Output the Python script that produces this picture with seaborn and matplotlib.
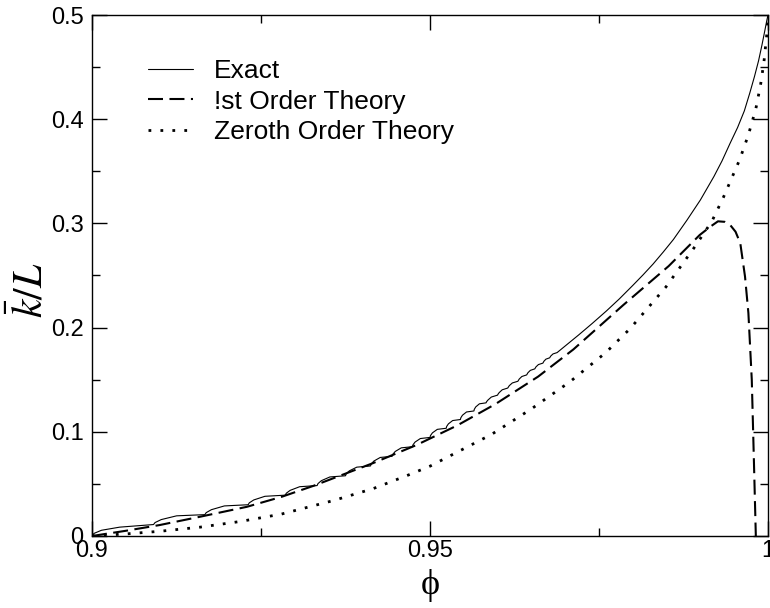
import matplotlib
matplotlib.use("Agg")
import matplotlib.pyplot as plt
import pandas as pd
import seaborn as sns
from matplotlib.ticker import MultipleLocator, FixedLocator, FixedFormatter
from matplotlib.lines import Line2D

# ---------------- data ----------------
phi_exact = [
    0.9000, 0.9003, 0.9014, 0.9041, 0.9091,
    0.90933, 0.91024, 0.91252, 0.9167,
    0.91689, 0.91766, 0.91958, 0.9231,
    0.92327, 0.92393, 0.92558, 0.9286,
    0.92874, 0.92931, 0.93072, 0.9333,
    0.93343, 0.93393, 0.93519, 0.9375,
    0.93761, 0.93806, 0.93917, 0.9412,
    0.94130, 0.94168, 0.94264, 0.9444,
    0.94449, 0.94485, 0.94575, 0.9474,
    0.94748, 0.94779, 0.94857, 0.9500,
    0.95007, 0.95036, 0.95108, 0.9524,
    0.95246, 0.95272, 0.95335, 0.9545,
    0.95456, 0.9548, 0.9554, 0.9565,
    0.95655, 0.95677, 0.95731, 0.9583,
    0.95835, 0.95856, 0.95907, 0.9600,
    0.96005, 0.96023, 0.96068, 0.9615,
    0.96173, 0.96218, 0.9630,
    0.96320, 0.96359, 0.9643,
    0.96448, 0.96484, 0.9655,
    0.96568, 0.96604, 0.9667,
    0.96685, 0.96715, 0.9677,
    0.96787, 0.96820, 0.9688,
    0.9720, 0.9740, 0.9761, 0.9780, 0.9800, 0.9815, 0.9830, 0.9845,
    0.9860, 0.9880, 0.9900, 0.9920, 0.9932, 0.9944, 0.9955, 0.9965,
    0.9973, 0.9980, 0.9986, 0.9991, 0.9995, 0.9998, 1.0000,
]
k_exact = [
    0.0000, 0.0025, 0.0055, 0.0085, 0.0110,
    0.0129, 0.01575, 0.01936, 0.0205,
    0.0224, 0.02525, 0.02886, 0.0300,
    0.03184, 0.0346, 0.0381, 0.0392,
    0.04104, 0.0438, 0.0473, 0.0484,
    0.05028, 0.0531, 0.05667, 0.0578,
    0.05968, 0.0625, 0.06607, 0.0672,
    0.06906, 0.07185, 0.07538, 0.0765,
    0.07834, 0.0811, 0.0846, 0.0857,
    0.08748, 0.09015, 0.09353, 0.0946,
    0.09636, 0.0990, 0.10234, 0.1034,
    0.10508, 0.1076, 0.11079, 0.1118,
    0.11344, 0.1159, 0.11902, 0.1200,
    0.12156, 0.1239, 0.12686, 0.1278,
    0.1287, 0.13039, 0.13335, 0.1352,
    0.1360, 0.13758, 0.1403, 0.1420,
    0.14428, 0.14688, 0.1485,
    0.15064, 0.15308, 0.1546,
    0.15663, 0.15895, 0.1604,
    0.16233, 0.16453, 0.1659,
    0.16769, 0.16973, 0.1710,
    0.17275, 0.17475, 0.1760,
    0.1930, 0.2040, 0.2160, 0.2275, 0.2405, 0.2505, 0.2610, 0.2725,
    0.2845, 0.3030, 0.3225, 0.3450, 0.3600, 0.3770, 0.3920, 0.4080,
    0.4250, 0.4410, 0.4560, 0.4710, 0.4840, 0.4940, 0.5000,
]

phi_first = [0.9000, 0.9050, 0.9100, 0.9160, 0.9229, 0.9280, 0.9327, 0.9416,
             0.9480, 0.9540, 0.9597, 0.9660, 0.9712, 0.9786, 0.9853, 0.9899,
             0.9915, 0.9926, 0.9936, 0.9944, 0.9952, 0.9959, 0.9966, 0.9971,
             0.9976, 0.9979, 0.9982]
k_first = [0.0000, 0.0050, 0.0105, 0.0185, 0.0280, 0.0375, 0.0480, 0.0700,
           0.0873, 0.1060, 0.1267, 0.1530, 0.1790, 0.2217, 0.2590, 0.2889,
           0.2970, 0.3020, 0.3015, 0.2985, 0.2920, 0.2810, 0.2490, 0.2140,
           0.1500, 0.0760, 0.0000]

phi_zeroth = [0.9000, 0.9050, 0.9100, 0.9160, 0.9220, 0.9280, 0.9357, 0.9416,
              0.9466, 0.9500, 0.9591, 0.9650, 0.9707, 0.9760, 0.9796, 0.9849,
              0.9890, 0.9917, 0.9934, 0.9958, 0.9971, 0.9982, 0.9989, 0.9994,
              0.9998, 1.0000]
k_zeroth = [0.0000, 0.0020, 0.0045, 0.0085, 0.0140, 0.0210, 0.0340, 0.0455,
            0.0580, 0.0670, 0.0975, 0.1220, 0.1480, 0.1760, 0.1990, 0.2390,
            0.2760, 0.3020, 0.3250, 0.3610, 0.3850, 0.4100, 0.4330, 0.4550,
            0.4800, 0.5000]

series_labels = ["Exact", "!st Order Theory", "Zeroth Order Theory"]
x_ticks = [0.9, 0.95, 1.0]
x_tick_labels = ["0.9", "0.95", "1"]
y_ticks = [0.0, 0.1, 0.2, 0.3, 0.4, 0.5]
y_tick_labels = ["0", "0.1", "0.2", "0.3", "0.4", "0.5"]

# ---------------- style ----------------
sns.set_theme(style="ticks")
plt.rcParams["font.family"] = ["Liberation Sans", "DejaVu Sans"]
plt.rcParams["mathtext.fontset"] = "stix"

fig = plt.figure(figsize=(7.7, 6.08), dpi=100)
fig.patch.set_facecolor("white")
W, H = 770.0, 608.0
ax = fig.add_axes([92 / W, (H - 536) / H, 676 / W, 521 / H])
ax.set_facecolor("white")

df_exact = pd.DataFrame({"phi": phi_exact, "k": k_exact})
df_first = pd.DataFrame({"phi": phi_first, "k": k_first})
df_zero = pd.DataFrame({"phi": phi_zeroth, "k": k_zeroth})

exact_kw = dict(color="black", linewidth=0.8, linestyle="-")
first_kw = dict(color="black", linewidth=1.5, linestyle=(0, (7.2, 3.1)))
zero_kw = dict(color="black", linewidth=2.0, linestyle=(0, (1, 3.3)))

sns.lineplot(data=df_exact, x="phi", y="k", ax=ax, estimator=None, sort=False, **exact_kw)
sns.lineplot(data=df_first, x="phi", y="k", ax=ax, estimator=None, sort=False, **first_kw)
sns.lineplot(data=df_zero, x="phi", y="k", ax=ax, estimator=None, sort=False, **zero_kw)

ax.set_xlim(0.9, 1.0)
ax.set_ylim(0.0, 0.5)

ax.xaxis.set_major_locator(FixedLocator(x_ticks))
ax.xaxis.set_major_formatter(FixedFormatter(x_tick_labels))
ax.yaxis.set_major_locator(FixedLocator(y_ticks))
ax.yaxis.set_major_formatter(FixedFormatter(y_tick_labels))
ax.xaxis.set_minor_locator(MultipleLocator(0.025))
ax.yaxis.set_minor_locator(MultipleLocator(0.05))

ax.tick_params(which="both", direction="in", top=True, right=True,
               color="black", width=1.0, labelsize=17, labelcolor="black")
ax.tick_params(which="major", length=10.8)
ax.tick_params(which="minor", length=5.8)
ax.tick_params(axis="x", which="major", pad=3)
ax.tick_params(axis="y", which="major", pad=6)

for s in ax.spines.values():
    s.set_color("black")
    s.set_linewidth(1.0)
    s.set_visible(True)

ax.set_xlabel("ϕ", fontfamily=["Liberation Serif", "DejaVu Serif"], fontsize=26,
              color="black")
ax.xaxis.set_label_coords(0.5, (536 - 586) / 521.0)
ax.xaxis.label.set_va("center")
ax.set_ylabel(r"$\bar{k}/L$", fontsize=30, color="black")
ax.yaxis.set_label_coords((31 - 92) / 676.0, (536 - 290) / 521.0)
ax.yaxis.label.set_va("center")

handles = [Line2D([], [], **exact_kw), Line2D([], [], **first_kw), Line2D([], [], **zero_kw)]
leg = ax.legend(handles, series_labels, loc="upper left",
                bbox_to_anchor=((148 - 92) / 676.0, (536 - 59) / 521.0),
                frameon=False, fontsize=19, handlelength=1.7, handletextpad=0.8,
                labelspacing=0.25, borderpad=0.0, borderaxespad=0.0)
for t in leg.get_texts():
    t.set_color("black")

fig.savefig("out.png", dpi=100, facecolor="white")
